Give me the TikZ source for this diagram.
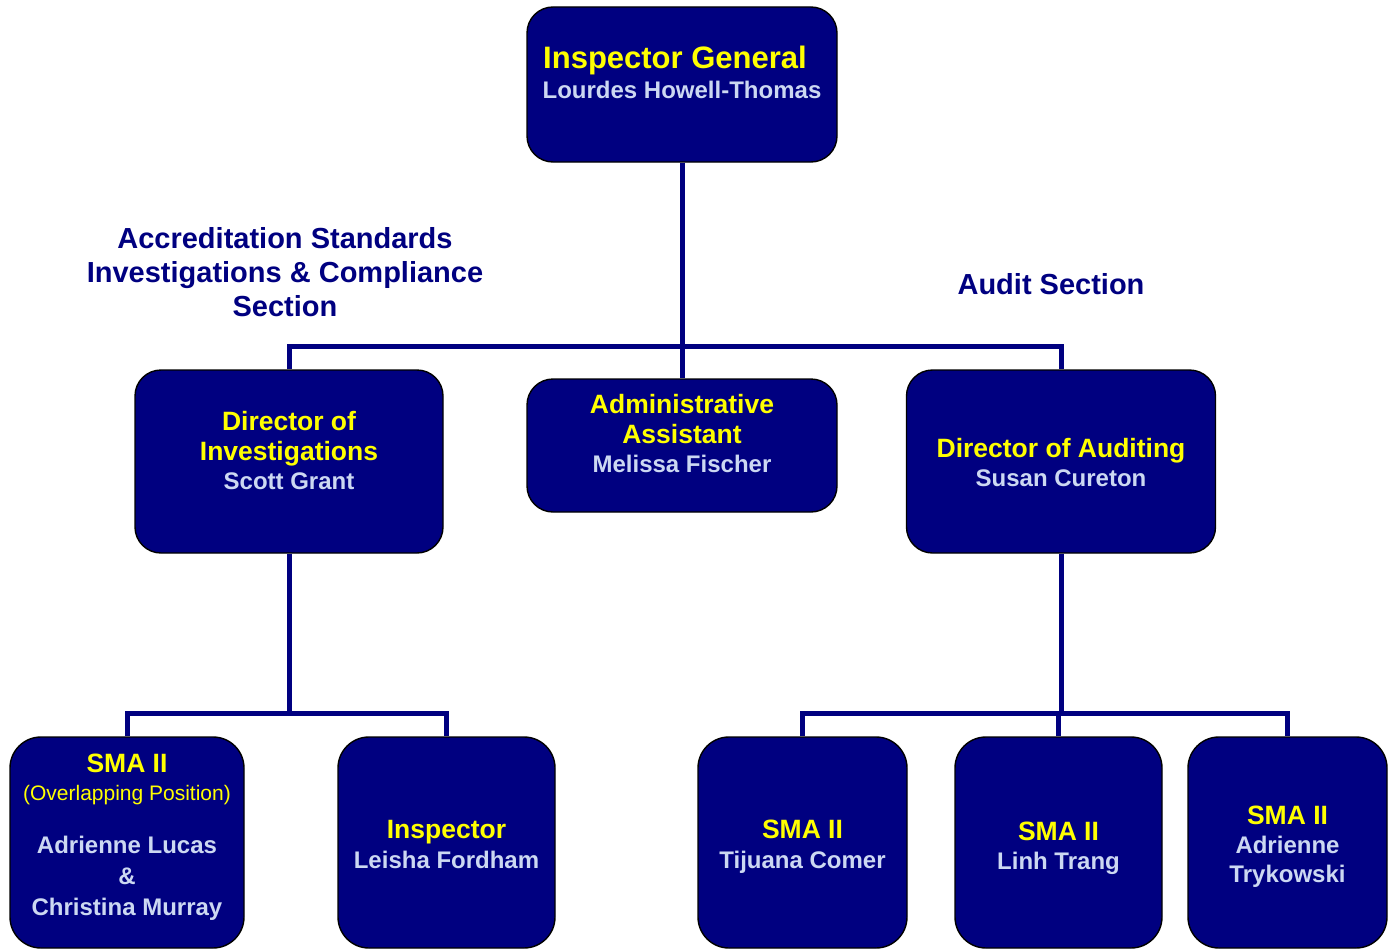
\documentclass[tikz,border=0pt]{standalone}
\usepackage{fontspec}
\setmainfont{Liberation Sans}
\usetikzlibrary{backgrounds}
\definecolor{boxnavy}{RGB}{0,0,128}
\definecolor{nameblue}{RGB}{204,216,242}
\definecolor{titleyel}{RGB}{255,255,0}
\begin{document}
\begin{tikzpicture}[x=1pt,y=-1pt,
  orgbox/.style={draw=black,line width=1.4pt,fill=boxnavy,rounded corners=26pt,inner sep=0pt},
  lowbox/.style={orgbox,rounded corners=31pt},
  link/.style={draw=boxnavy,line width=5pt,line join=miter},
  ttl/.style={anchor=base,inner sep=0pt,text=titleyel,font=\bfseries\fontsize{26.5}{30}\selectfont},
  bigttl/.style={ttl,font=\bfseries\fontsize{31}{34}\selectfont},
  nm/.style={anchor=base,inner sep=0pt,text=nameblue,font=\bfseries\fontsize{24}{30}\selectfont},
  sub/.style={anchor=base,inner sep=0pt,text=titleyel,font=\fontsize{21}{24}\selectfont},
  head/.style={anchor=base,inner sep=0pt,text=boxnavy,font=\bfseries\fontsize{29}{34}\selectfont}]
\useasboundingbox (0,0) rectangle (1392,950);

\coordinate (bus1) at (682,346);
\coordinate (bus2) at (289,713);
\coordinate (bus3) at (1061,713);

% boxes
\node[orgbox,minimum width=310pt,minimum height=155pt] (ig) at (682,84.5) {};
\node[orgbox,minimum width=308pt,minimum height=183pt] (dinv) at (289,461.5) {};
\node[orgbox,minimum width=310pt,minimum height=133pt] (adm) at (682,445.5) {};
\node[orgbox,minimum width=309pt,minimum height=183pt] (daud) at (1061,461.5) {};
\node[lowbox,minimum width=234pt,minimum height=211pt] (sma1) at (127,842.5) {};
\node[lowbox,minimum width=217pt,minimum height=211pt] (insp) at (446.5,842.5) {};
\node[lowbox,minimum width=209pt,minimum height=211pt] (tij) at (802.5,842.5) {};
\node[lowbox,minimum width=207pt,minimum height=211pt] (linh) at (1058.5,842.5) {};
\node[lowbox,minimum width=199pt,minimum height=211pt] (tryk) at (1287.5,842.5) {};

% connectors behind the boxes
\begin{scope}[on background layer]
\path[link] (ig.south) -- (adm.north);
\path[link] (dinv.north) |- (bus1) -| (daud.north);
\path[link] (dinv.south) -- (bus2);
\path[link] (sma1.north) |- (bus2) -| (insp.north);
\path[link] (daud.south) -- (bus3);
\path[link] (tij.north) |- (bus3) -| (tryk.north);
\path[link] (linh.north) -- (linh.north |- bus3);
\end{scope}

% headings
\node[head] (h1) at (285,248.5) {Accreditation Standards};
\node[head] (h2) at (285,282.5) {Investigations \& Compliance};
\node[head] (h3) at (285,316.5) {Section};
\node[head] (h4) at (1051,294.5) {Audit Section};

% texts
\node[bigttl] (t1) at (675,68) {Inspector General};
\node[nm] (n1) at (682,98) {Lourdes Howell-Thomas};

\node[ttl] (t2a) at (289,430.5) {Director of};
\node[ttl] (t2b) at (289,460.5) {Investigations};
\node[nm] (n2) at (289,489.5) {Scott Grant};

\node[ttl] (t3a) at (682,413.5) {Administrative};
\node[ttl] (t3b) at (682,443.5) {Assistant};
\node[nm] (n3) at (682,472.5) {Melissa Fischer};

\node[ttl] (t4) at (1061,457.5) {Director of Auditing};
\node[nm] (n4) at (1061,486.5) {Susan Cureton};

\node[ttl] (t5) at (127,772) {SMA II};
\node[sub] (s5) at (127,800) {(Overlapping Position)};
\node[nm] (n5a) at (127,853) {Adrienne Lucas};
\node[nm] (n5b) at (127,884) {\&};
\node[nm] (n5c) at (127,915) {Christina Murray};

\node[ttl] (t6) at (446.5,838.5) {Inspector};
\node[nm] (n6) at (446.5,868.5) {Leisha Fordham};

\node[ttl] (t7) at (802.5,838.5) {SMA II};
\node[nm] (n7) at (802.5,868.5) {Tijuana Comer};

\node[ttl] (t8) at (1058.5,840) {SMA II};
\node[nm] (n8) at (1058.5,869.5) {Linh Trang};

\node[ttl] (t9) at (1287.5,824) {SMA II};
\node[nm] (n9a) at (1287.5,853.5) {Adrienne};
\node[nm] (n9b) at (1287.5,882.5) {Trykowski};
\end{tikzpicture}
\end{document}
